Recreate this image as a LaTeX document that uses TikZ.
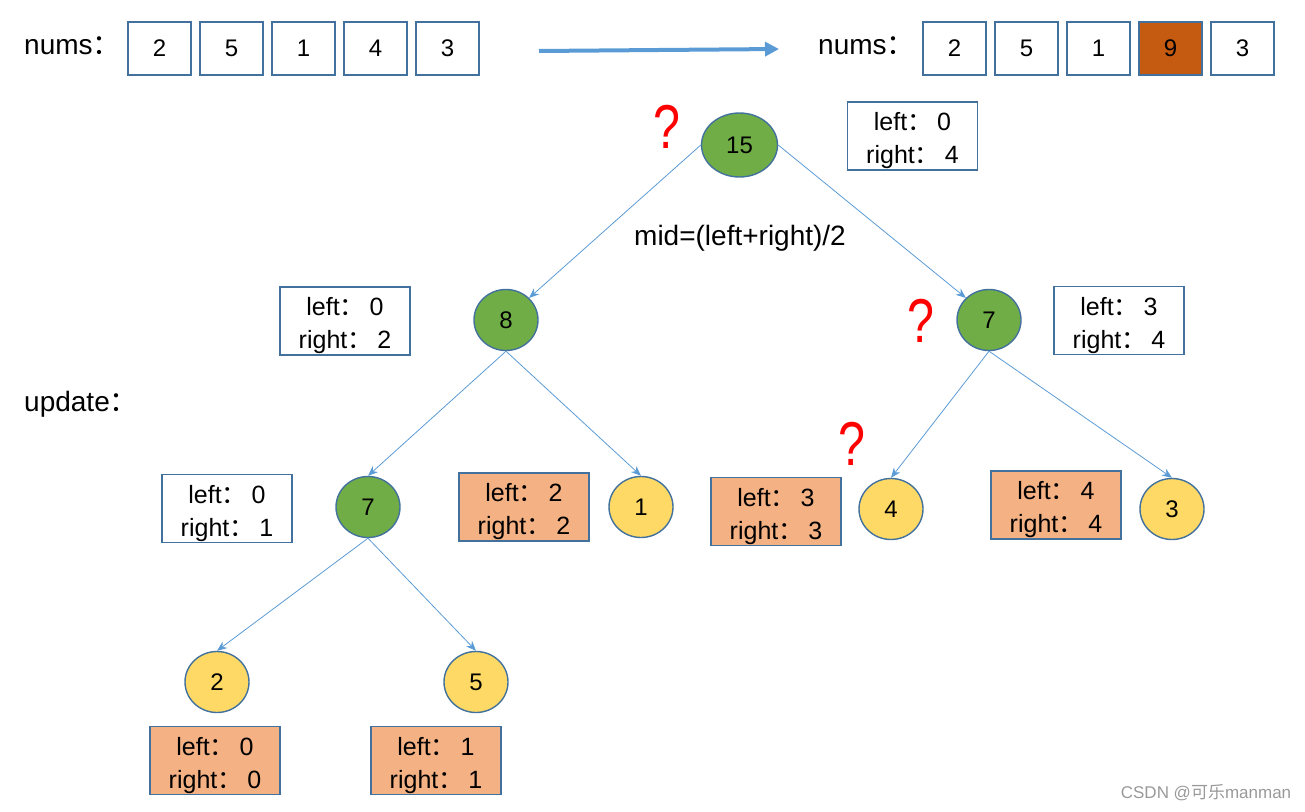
\documentclass[tikz,border=0pt]{standalone}
\usepackage{fontspec}
\usepackage{graphicx}
\setmainfont{Liberation Sans}
\newfontfamily\cjk{Noto Sans CJK SC}
\usetikzlibrary{shapes.geometric,arrows.meta}
\definecolor{bord}{HTML}{41719C}
\definecolor{lineblue}{HTML}{5B9BD5}
\definecolor{gnode}{HTML}{70AD47}
\definecolor{ynode}{HTML}{FFD966}
\definecolor{obox}{HTML}{F4B183}
\definecolor{nine}{HTML}{C55A11}
\newcommand{\cc}{\smash{\cjk ：}}
\newcommand{\cs}{\smash{\cjk ：}\hspace{5pt}}
\newcommand{\tstrut}{\rule{0pt}{28pt}}
\newcommand{\qmark}{\scalebox{0.78}[1]{?}}
\tikzset{
  cell/.style={draw=bord,line width=1.4pt,minimum width=63pt,minimum height=53pt,inner sep=0pt,font=\fontsize{24}{28}\selectfont},
  gn/.style={ellipse,draw=bord,line width=1.4pt,fill=gnode,minimum width=64pt,minimum height=61pt,inner sep=0pt,font=\fontsize{24}{28}\selectfont},
  yn/.style={gn,fill=ynode},
  lr/.style={draw=bord,line width=1.4pt,minimum width=130pt,minimum height=68pt,inner sep=0pt,align=center,font=\fontsize{25}{33}\selectfont},
  lro/.style={lr,fill=obox},
  edge/.style={draw=lineblue,line width=0.8pt,-{Stealth[length=10pt,width=8pt]}},
  lbl/.style={inner sep=0pt,font=\fontsize{28}{32}\selectfont},
  qm/.style={inner sep=0pt,text=red,font=\fontsize{62}{66}\selectfont}
}
\begin{document}
\begin{tikzpicture}[x=1pt,y=-1pt]
\useasboundingbox (0,0) rectangle (1305,811);
% top-left array
\node[lbl,anchor=west] (numsA) at (24,47) {nums\cc};
\node[cell] (a0) at (159.5,48.5) {2};
\node[cell] (a1) at (231.5,48.5) {5};
\node[cell] (a2) at (303.5,48.5) {1};
\node[cell] (a3) at (375.5,48.5) {4};
\node[cell] (a4) at (447.5,48.5) {3};
% arrow
\coordinate (arS) at (539,51);
\coordinate (arE) at (779,49);
\draw[lineblue,line width=4pt,-{Triangle[length=14pt,width=14pt]}] (arS) -- (arE);
% top-right array
\node[lbl,anchor=west] (numsB) at (818,47) {nums\cc};
\node[cell] (b0) at (954.5,48.5) {2};
\node[cell] (b1) at (1026.5,48.5) {5};
\node[cell] (b2) at (1098.5,48.5) {1};
\node[cell,fill=nine] (b3) at (1170.5,48.5) {9};
\node[cell] (b4) at (1242.5,48.5) {3};
% tree nodes
\node[gn,minimum width=76pt,minimum height=64pt] (r) at (739.5,145) {15};
\node[gn] (n8) at (506,320) {8};
\node[gn] (n7r) at (989,320) {7};
\node[gn] (n7l) at (368,507) {7};
\node[yn] (n1) at (641,507) {1};
\node[yn] (n4) at (891,509) {4};
\node[yn] (n3) at (1172,509) {3};
\node[yn] (n2) at (217,682) {2};
\node[yn] (n5) at (476,682) {5};
% range boxes
\node[lr] (br) at (912.5,136) {\tstrut left\cs 0\\right\cs 4};
\node[lr] (b8) at (345,321) {\tstrut left\cs 0\\right\cs 2};
\node[lr] (b7r) at (1119,320.5) {\tstrut left\cs 3\\right\cs 4};
\node[lr] (b7l) at (227,508.5) {\tstrut left\cs 0\\right\cs 1};
\node[lro] (b1o) at (524,507) {\tstrut left\cs 2\\right\cs 2};
\node[lro] (b4o) at (776,511.5) {\tstrut left\cs 3\\right\cs 3};
\node[lro] (b3o) at (1056,505) {\tstrut left\cs 4\\right\cs 4};
\node[lro] (b2o) at (215,760.5) {\tstrut left\cs 0\\right\cs 0};
\node[lro] (b5o) at (436,760.5) {\tstrut left\cs 1\\right\cs 1};
% labels
\node[lbl] (mid) at (740,238) {mid=(left+right)/2};
\node[lbl,anchor=west] (upd) at (24,404) {update\cc};
\node[qm] (q1) at (667,127) {\qmark};
\node[qm] (q2) at (921,321) {\qmark};
\node[qm] (q3) at (852,444) {\qmark};
\node[inner sep=0pt,text=black!40,font=\fontsize{17}{19}\selectfont] (wm) at (1206,793) {CSDN @{\cjk 可乐}manman};
% edges
\draw[edge] (r.west) -- (n8.north east);
\draw[edge] (r.east) -- (n7r.north west);
\draw[edge] (n8.south) -- (n7l.north);
\draw[edge] (n8.south) -- (n1.north);
\draw[edge] (n7r.south) -- (n4.north);
\draw[edge] (n7r.south) -- (n3.north);
\draw[edge] (n7l.south) -- (n2.north);
\draw[edge] (n7l.south) -- (n5.north);
\end{tikzpicture}
\end{document}
